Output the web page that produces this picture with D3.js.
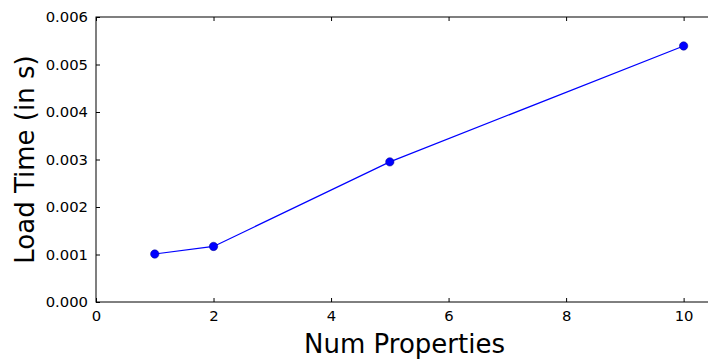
<!DOCTYPE html>
<html>
<head>
<meta charset="utf-8">
<script src="https://cdn.jsdelivr.net/npm/d3@7"></script>
<style>
  body { margin: 0; background: #fff; }
  text { font-family: "DejaVu Sans", sans-serif; fill: #000; }
</style>
</head>
<body>
<script>
// data
var numProps = [1, 2, 5, 10];
var loadTimes = [0.00101, 0.00117, 0.00295, 0.00539];
var xTicks = [0, 2, 4, 6, 8, 10];
var yTicks = [0, 0.001, 0.002, 0.003, 0.004, 0.005, 0.006];

var margin = {top: 17, left: 96};
var plotW = 617, plotH = 285;

var svg = d3.select("body").append("svg")
    .attr("width", 708)
    .attr("height", 362);

var g = svg.append("g")
    .attr("transform", "translate(" + margin.left + "," + margin.top + ")");

var xscale = d3.scaleLinear().domain([0, 10.5]).range([0, plotW]);
var yscale = d3.scaleLinear().domain([0, 0.006]).range([plotH, 0]);

// frame
g.append("rect")
    .attr("width", plotW).attr("height", plotH)
    .attr("fill", "none").attr("stroke", "#000").attr("stroke-width", 1);

// inward ticks on all sides (matplotlib classic look)
function styleAxis(sel) {
  sel.select(".domain").remove();
  sel.selectAll(".tick line").attr("stroke", "#000").attr("stroke-width", 1);
  sel.selectAll("text").style("font-size", "14.8px");
}

g.append("g")
    .attr("transform", "translate(0," + plotH + ")")
    .call(d3.axisBottom(xscale).tickValues(xTicks).tickFormat(d3.format("d"))
      .tickSizeInner(-4).tickPadding(8))
    .call(styleAxis);

g.append("g")
    .call(d3.axisTop(xscale).tickValues(xTicks).tickSizeInner(-4).tickFormat(""))
    .call(styleAxis);

g.append("g")
    .call(d3.axisLeft(yscale).tickValues(yTicks).tickFormat(d3.format(".3f"))
      .tickSizeInner(-4).tickPadding(8))
    .call(styleAxis);

g.append("g")
    .attr("transform", "translate(" + plotW + ",0)")
    .call(d3.axisRight(yscale).tickValues(yTicks).tickSizeInner(-4).tickFormat(""))
    .call(styleAxis);

// line + markers
var pts = numProps.map(function(d, i) { return [d, loadTimes[i]]; });

var line = d3.line()
    .x(function(d) { return xscale(d[0]); })
    .y(function(d) { return yscale(d[1]); });

g.append("path")
    .datum(pts)
    .attr("fill", "none")
    .attr("stroke", "#0000ff")
    .attr("stroke-width", 1.2)
    .attr("d", line);

g.selectAll("circle")
    .data(pts).enter()
    .append("circle")
    .attr("cx", function(d) { return xscale(d[0]); })
    .attr("cy", function(d) { return yscale(d[1]); })
    .attr("r", 4.2)
    .attr("fill", "#0000ff")
    .attr("stroke", "#00008b")
    .attr("stroke-width", 0.5);

// axis labels
svg.append("text")
    .attr("x", margin.left + plotW / 2)
    .attr("y", 353)
    .attr("text-anchor", "middle")
    .style("font-size", "26px")
    .text("Num Properties");

svg.append("text")
    .attr("transform", "translate(34," + (margin.top + plotH / 2) + ") rotate(-90)")
    .attr("text-anchor", "middle")
    .style("font-size", "26px")
    .text("Load Time (in s)");
</script>
</body>
</html>
